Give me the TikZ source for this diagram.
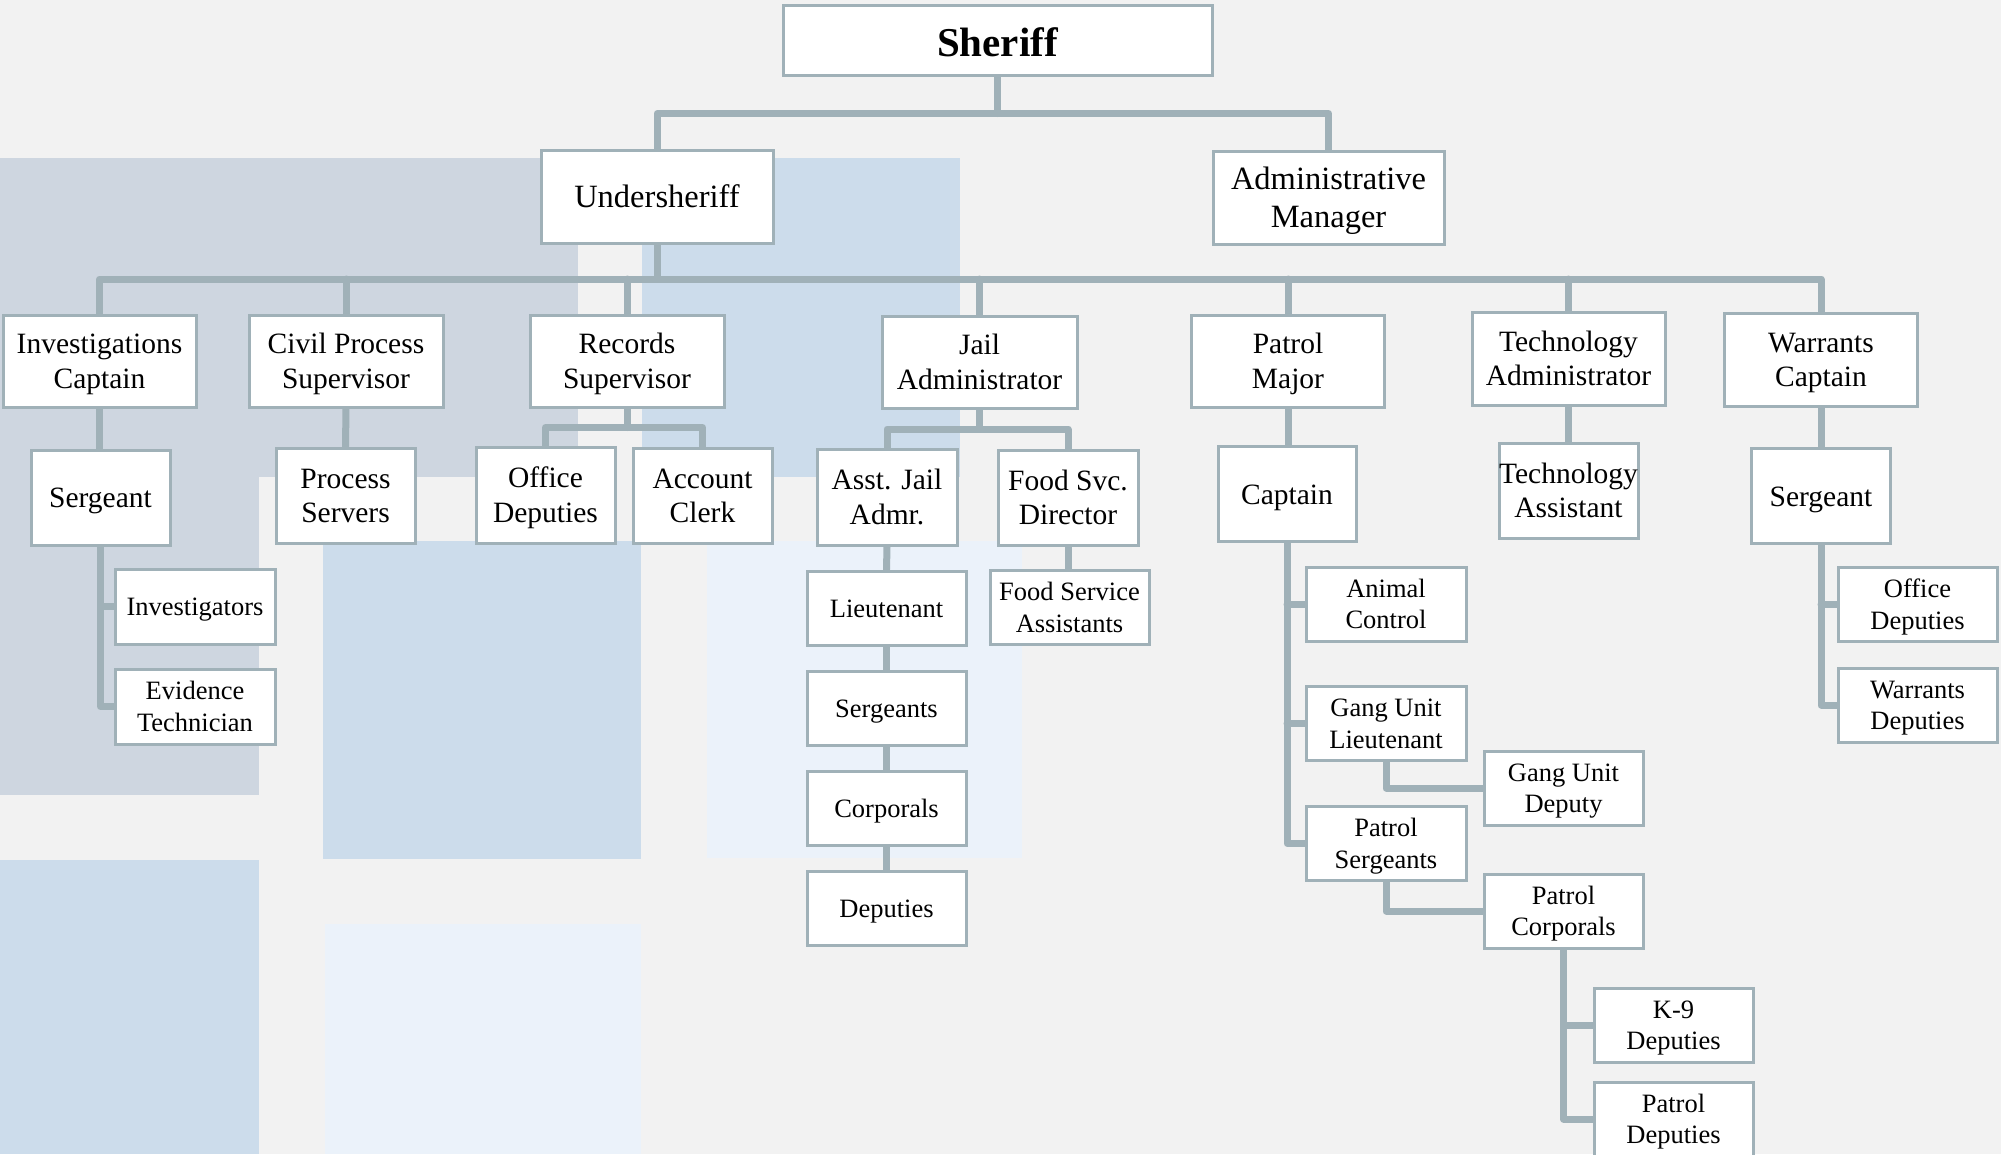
\documentclass[tikz,border=0pt]{standalone}
\usepackage{fontspec}
\setmainfont{Liberation Serif}
\definecolor{bgc}{HTML}{F2F2F2}
\definecolor{grayblue}{HTML}{CED6E0}
\definecolor{midblue}{HTML}{CCDCEB}
\definecolor{paleblue}{HTML}{EBF2FA}
\definecolor{linec}{HTML}{A0B1B8}
\pgfdeclarelayer{bgfill}
\pgfdeclarelayer{wires}
\pgfsetlayers{bgfill,wires,main}
\tikzset{
  box/.style={draw=linec, line width=3pt, fill=white, inner sep=0pt, align=center, text=black,
    execute at begin node={\rule{0pt}{0.95em}},
    execute at end node={\rule[-0.27em]{0pt}{0pt}}},
  twol/.style={execute at begin node={\rule{0pt}{\dimexpr0.95em+\baselineskip\relax}}},
  topbox/.style={box, font=\fontsize{41}{48}\selectfont\bfseries,
    execute at begin node={\rule{0pt}{1.07em}}},
  lvone/.style={box, font=\fontsize{32.5}{38}\selectfont},
  lvtwo/.style={box, font=\fontsize{29.5}{34.5}\selectfont},
  lvfour/.style={box, font=\fontsize{26.5}{31.5}\selectfont},
  conn/.style={draw=linec, line width=7pt, line join=round, line cap=round},
}
\begin{document}
\begin{tikzpicture}[x=1pt, y=-1pt]
\useasboundingbox (0,0) rectangle (2001,1154);
\begin{pgfonlayer}{bgfill}
\fill[bgc] (0,0) rectangle (2001,1154);
% decorative background blocks
\fill[grayblue] (0,158) rectangle (578,477);
\fill[grayblue] (0,158) rectangle (259,795);
\fill[midblue] (642,158) rectangle (960,477);
\fill[midblue] (323,541) rectangle (641,859);
\fill[paleblue] (707,541) rectangle (1022,858);
\fill[midblue] (0,860) rectangle (259,1154);
\fill[paleblue] (325,924) rectangle (641,1154);
\end{pgfonlayer}

% nodes
\node[topbox, minimum width=429, minimum height=70] (sheriff) at (997.5,40) {Sheriff};
\node[lvone, minimum width=232, minimum height=93] (under) at (657,196.5) {Undersheriff};
\node[lvone, twol, minimum width=231, minimum height=93] (admin) at (1328.5,197.5) {Administrative\\Manager};

\node[lvtwo, twol, minimum width=193, minimum height=92] (invcap) at (99.5,361) {Investigations\\Captain};
\node[lvtwo, twol, minimum width=194, minimum height=92] (civil) at (346,361) {Civil Process\\Supervisor};
\node[lvtwo, twol, minimum width=194, minimum height=92] (records) at (627,361) {Records\\Supervisor};
\node[lvtwo, twol, minimum width=195, minimum height=92] (jail) at (979.5,362) {Jail\\Administrator};
\node[lvtwo, twol, minimum width=193, minimum height=92] (patrol) at (1288,361) {Patrol\\Major};
\node[lvtwo, twol, minimum width=193, minimum height=93] (techadm) at (1568.5,358.5) {Technology\\Administrator};
\node[lvtwo, twol, minimum width=193, minimum height=93] (warcap) at (1821,359.5) {Warrants\\Captain};

\node[lvtwo, minimum width=139, minimum height=95] (sgtone) at (100.5,497.5) {Sergeant};
\node[lvtwo, twol, minimum width=139, minimum height=95] (procsrv) at (345.5,495.5) {Process\\Servers};
\node[lvtwo, twol, minimum width=139, minimum height=96] (offdepone) at (545.5,495) {Office\\Deputies};
\node[lvtwo, twol, minimum width=139, minimum height=95] (acct) at (702.5,495.5) {Account\\Clerk};
\node[lvtwo, twol, minimum width=140, minimum height=96] (asstjail) at (887,497) {Asst. Jail\\Admr.};
\node[lvtwo, twol, minimum width=140, minimum height=95] (foodsvc) at (1068,497.5) {Food Svc.\\Director};
\node[lvtwo, minimum width=138, minimum height=95] (captain) at (1287,494) {Captain};
\node[lvtwo, twol, minimum width=139, minimum height=95] (techasst) at (1568.5,490.5) {Technology\\Assistant};
\node[lvtwo, minimum width=139, minimum height=95] (sgttwo) at (1821,496) {Sergeant};

\node[lvfour, minimum width=160, minimum height=75] (investigators) at (195,606.5) {Investigators};
\node[lvfour, twol, minimum width=160, minimum height=75] (evidence) at (195,706.5) {Evidence\\Technician};

\node[lvfour, minimum width=159, minimum height=74] (lieut) at (886.5,608) {Lieutenant};
\node[lvfour, minimum width=159, minimum height=74] (sergeants) at (886.5,708.5) {Sergeants};
\node[lvfour, minimum width=159, minimum height=74] (corporals) at (886.5,808) {Corporals};
\node[lvfour, minimum width=159, minimum height=74] (deputies) at (886.5,908.5) {Deputies};
\node[lvfour, twol, minimum width=159, minimum height=74] (foodasst) at (1069.5,607.5) {Food Service\\Assistants};

\node[lvfour, twol, minimum width=160, minimum height=74] (animal) at (1386,604) {Animal\\Control};
\node[lvfour, twol, minimum width=160, minimum height=74] (ganglt) at (1386,723.5) {Gang Unit\\Lieutenant};
\node[lvfour, twol, minimum width=160, minimum height=74] (patrolsgt) at (1386,843.5) {Patrol\\Sergeants};
\node[lvfour, twol, minimum width=159, minimum height=74] (gangdep) at (1563.5,788) {Gang Unit\\Deputy};
\node[lvfour, twol, minimum width=159, minimum height=74] (patrolcpl) at (1563.5,911) {Patrol\\Corporals};
\node[lvfour, twol, minimum width=159, minimum height=74] (kdep) at (1673.5,1025) {K-9\\Deputies};
\node[lvfour, twol, minimum width=159, minimum height=74] (patroldep) at (1673.5,1119) {Patrol\\Deputies};

\node[lvfour, twol, minimum width=159, minimum height=74] (offdeptwo) at (1917.5,604.5) {Office\\Deputies};
\node[lvfour, twol, minimum width=159, minimum height=74] (wardep) at (1917.5,705) {Warrants\\Deputies};

% bar coordinates
\coordinate (barzero) at (997.5,113.5);
\coordinate (barone) at (657,279);
\coordinate (barrec) at (627,427.5);
\coordinate (barjail) at (979.5,429);

% connectors
\begin{pgfonlayer}{wires}
% Sheriff level
\draw[conn] (sheriff.south) -- (barzero);
\draw[conn] (under.north) -- (under.north |- barzero) -- (admin.north |- barzero) -- (admin.north);
% Undersheriff level
\draw[conn] (under.south) -- (barone);
\draw[conn] (invcap.north) -- (invcap.north |- barone) -- (warcap.north |- barone) -- (warcap.north);
\foreach \n in {civil,records,jail,patrol,techadm}
  \draw[conn] (\n.north) -- (\n.north |- barone);
% Investigations
\draw[conn] (invcap.south) -- (invcap.south |- sgtone.north);
\draw[conn] (sgtone.south) -- (sgtone.south |- evidence.west) -- (evidence.west);
\draw[conn] (sgtone.south |- investigators.west) -- (investigators.west);
% Civil process
\draw[conn] (civil.south) -- (procsrv.north);
% Records
\draw[conn] (records.south) -- (barrec);
\draw[conn] (offdepone.north) -- (offdepone.north |- barrec) -- (acct.north |- barrec) -- (acct.north);
% Jail
\draw[conn] (jail.south) -- (barjail);
\draw[conn] (asstjail.north) -- (asstjail.north |- barjail) -- (foodsvc.north |- barjail) -- (foodsvc.north);
\draw[conn] (asstjail.south) -- (lieut.north);
\draw[conn] (lieut.south) -- (sergeants.north);
\draw[conn] (sergeants.south) -- (corporals.north);
\draw[conn] (corporals.south) -- (deputies.north);
\draw[conn] (foodsvc.south) -- (foodsvc.south |- foodasst.north);
% Patrol
\draw[conn] (patrol.south) -- (patrol.south |- captain.north);
\draw[conn] (captain.south) -- (captain.south |- patrolsgt.west) -- (patrolsgt.west);
\draw[conn] (captain.south |- animal.west) -- (animal.west);
\draw[conn] (captain.south |- ganglt.west) -- (ganglt.west);
\draw[conn] (ganglt.south) -- (ganglt.south |- gangdep.west) -- (gangdep.west);
\draw[conn] (patrolsgt.south) -- (patrolsgt.south |- patrolcpl.west) -- (patrolcpl.west);
\draw[conn] (patrolcpl.south) -- (patrolcpl.south |- patroldep.west) -- (patroldep.west);
\draw[conn] (patrolcpl.south |- kdep.west) -- (kdep.west);
% Technology
\draw[conn] (techadm.south) -- (techasst.north);
% Warrants
\draw[conn] (warcap.south) -- (sgttwo.north);
\draw[conn] (sgttwo.south) -- (sgttwo.south |- wardep.west) -- (wardep.west);
\draw[conn] (sgttwo.south |- offdeptwo.west) -- (offdeptwo.west);
\end{pgfonlayer}
\end{tikzpicture}
\end{document}
